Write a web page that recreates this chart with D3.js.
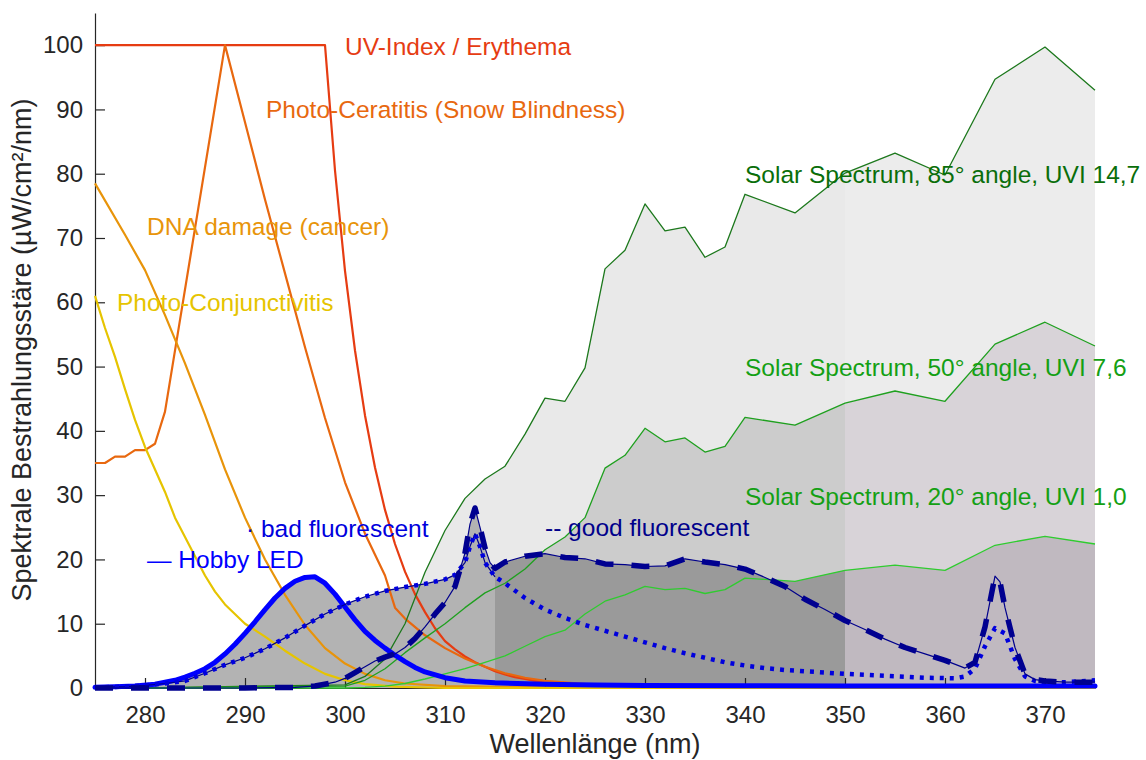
<!DOCTYPE html>
<html><head><meta charset="utf-8">
<script src="https://cdn.jsdelivr.net/npm/d3@7"></script>
<style>
body{margin:0;background:#fff}
svg{display:block}
text{font-family:"Liberation Sans",Arial,Helvetica,sans-serif}
</style>
</head><body>
<svg id="c" width="1146" height="760"></svg>
<script>
// ---------- data ----------
const xTicks = [280,290,300,310,320,330,340,350,360,370];
const yTicks = [0,10,20,30,40,50,60,70,80,90,100];

const wlErythema = [275,298,299,300,301,302,303,304,305,306,307,308,309,310,311,312,313,314,315,316,317,318,319,320,322,324,326,328,330,340,350,360,375];
const erythema   = [100,100,80.5,64.9,52.5,42.4,34.3,27.7,22.4,18.1,14.6,11.8,9.3,7.3,6.0,4.9,4.0,3.3,2.6,2.1,1.7,1.4,1.1,0.9,0.6,0.4,0.25,0.16,0.14,0.05,0.02,0.01,0];

const wlCeratitis = [275,276,277,278,279,280,281,282,288,290,292,294,296,298,300,302,304,305,306,308,310,312,314,316,318,320,325,330,340,375];
const ceratitis   = [35,35,36,36,37,37,38,43,100,88,76,64.5,53,42,32,24,17.5,12.5,10.8,8.2,6.2,4.6,3.3,2.3,1.6,1.1,0.5,0.2,0.05,0];

const wlDNA = [275,278,280,282,284,286,288,290,292,294,296,298,300,302,304,306,310,320,375];
const dna   = [78.5,70.5,65,58,50.5,42.5,34,26.5,20,14.5,9.8,6.2,3.8,2.2,1.2,0.7,0.3,0.1,0];

const wlConj = [275,276,277,278,279,280,281,282,283,284,285,286,287,288,290,292,294,296,298,300,302,305,310,375];
const conj   = [61,56,51.5,46.5,41.7,37.5,34,30.5,26.5,23.5,20.5,17.5,15,13,10,8,5.8,3.8,2.2,1.2,0.6,0.2,0,0];

const wlSolar  = [280,300,302,304,306,308,310,312,314,316,318,320,322,324,326,328,330,332,334,336,338,340,345,350,355,360,365,370,375];
const solar85  = [0,0.5,1.8,4.5,10,18,24.5,29.5,32.5,34.5,39.5,45.1,44.6,49.8,65.2,68.1,75.3,71.1,71.7,67.0,68.6,76.8,73.9,80.1,83.2,79.8,94.7,99.7,93.0];
const solar50  = [0,0.3,1.2,3,5.5,7.8,10,12.5,14.8,16.3,18.5,21.5,23.5,26.5,34.2,36.2,40.4,38.3,38.9,36.7,37.6,42.1,40.9,44.3,46.2,44.6,53.5,56.9,53.2];
const solar20  = [0,0,0.1,0.3,0.7,1.4,2.2,3.0,4.0,5.0,6.5,8,9,11.5,13.5,14.5,15.8,15.3,15.5,14.7,15.3,17.1,16.6,18.3,19.1,18.3,22.2,23.6,22.4];

const wlLED = [275,277,279,281,282,283,284,285,286,287,288,289,290,291,292,293,294,295,296,297,298,299,300,301,302,303,304,305,306,307,308,310,312,315,320,325,330,340,350,360,375];
const led   = [0.1,0.2,0.3,0.6,0.9,1.2,1.7,2.3,3.0,4.0,5.3,6.8,8.5,10.3,12.2,14.0,15.5,16.6,17.2,17.3,16.3,14.6,12.6,10.6,8.8,7.4,6.2,5.1,4.1,3.2,2.5,1.6,1.1,0.8,0.6,0.45,0.4,0.35,0.3,0.3,0.3];

const wlBad = [275,278,280,282,284,286,288,290,292,294,296,298,300,302,304,306,308,310,311,312,312.5,313,313.5,314,315,316,318,320,322,324,326,328,330,332,334,336,338,340,342,344,346,348,350,354,358,361,362,363,364,365,366,367,368,369,370,372,375];
const bad   = [0.1,0.2,0.4,0.7,1.1,2.3,3.6,4.7,6.1,7.8,9.7,11.5,13,14.2,15.1,15.7,16.2,16.9,17.6,19.5,22,24,22,19.5,17.3,16.3,14,12.2,10.9,9.8,8.9,8,7.1,6.2,5.4,4.7,4.0,3.5,3.1,2.8,2.6,2.4,2.2,1.9,1.6,1.5,1.8,3,6.5,9.3,8.5,4.5,1.8,1.1,0.9,0.9,1.2];

const wlGood = [275,290,295,297,299,300,301,302,303,304,305,306,307,308,309,310,311,312,312.5,313,313.5,314,314.5,315,316,318,320,322,324,326,328,330,332,334,336,338,340,342,344,346,348,350,352,354,356,358,360,362,363,364,365,365.5,366,367,368,369,370,372,375];
const good   = [0,0,0.1,0.3,0.9,1.5,2.4,3.3,4.2,4.8,5.3,6.3,7.7,9.5,11.5,13.3,15.8,21,25.5,28,25,21.8,19.5,18.6,19.6,20.5,20.9,20.3,20.1,19.3,19.2,18.9,19,20.1,19.6,19.2,18.5,17.2,15.8,13.8,12.2,10.5,9.1,7.6,6.3,5.3,4.3,3.1,4,9.5,17.4,16.5,12.5,6.3,2.2,1.3,1.1,0.9,0.9];

const bandEdges = [275,315,350,375];

// ---------- setup ----------
const W = 1146, H = 760;
const x = d3.scaleLinear().domain([275,375]).range([95,1095]);
const y = d3.scaleLinear().domain([0,105]).range([688,13]);
const svg = d3.select('#c');
const defs = svg.append('defs');
const zip = (a,b) => a.map((v,i)=>[v,b[i]]);

const area = d3.area().x(d=>x(d[0])).y0(y(0)).y1(d=>y(d[1]));
const line = d3.line().x(d=>x(d[0])).y(d=>y(d[1]));

const fills = {
  s85: ['#e9e9e9','#e9e9e9','#ececec'],
  s50: [null,'#cccccc','#d8d3d8'],
  low: ['#b3b3b3','#9a9a9a','#c0b9c0']
};

const gFill = svg.append('g');
for (let i=0;i<3;i++){
  defs.append('clipPath').attr('id','band'+i).append('rect')
    .attr('x', x(bandEdges[i])).attr('y',0)
    .attr('width', x(bandEdges[i+1]) - x(bandEdges[i])).attr('height', H);
  const g = gFill.append('g').attr('clip-path','url(#band'+i+')');
  g.append('path').attr('d', area(zip(wlSolar,solar85))).attr('fill', fills.s85[i]);
  if (fills.s50[i]) g.append('path').attr('d', area(zip(wlSolar,solar50))).attr('fill', fills.s50[i]);
  if (i>0) g.append('path').attr('d', area(zip(wlSolar,solar20))).attr('fill', fills.low[i]);
  [[wlLED,led],[wlBad,bad],[wlGood,good]].forEach(([w,v])=>{
    g.append('path').attr('d', area(zip(w,v))).attr('fill', fills.low[i]);
  });
}

// ---------- axes ----------
const axCol = '#262626';
const yAxis = svg.append('g').attr('transform','translate(95,0)')
  .call(d3.axisLeft(y).tickValues(yTicks).tickSizeInner(-10).tickSizeOuter(0).tickPadding(12));
const xAxis = svg.append('g').attr('transform','translate(0,688)')
  .call(d3.axisBottom(x).tickValues(xTicks).tickSizeInner(-10).tickSizeOuter(0).tickPadding(18));
[yAxis,xAxis].forEach(a=>{
  a.selectAll('path,line').attr('stroke',axCol).attr('stroke-width',1.2);
  a.selectAll('text').attr('fill',axCol).style('font-size','24px').style('font-family','"Liberation Sans",Arial,sans-serif');
});

// ---------- lines ----------
const gL = svg.append('g').attr('fill','none').attr('stroke-linejoin','round');
function drawLine(w,v,col,wid,dash,cap){
  const p = gL.append('path').attr('d', line(zip(w,v))).attr('stroke',col).attr('stroke-width',wid);
  if (dash) p.attr('stroke-dasharray',dash);
  p.attr('stroke-linecap', cap||'butt');
  return p;
}
drawLine(wlErythema,erythema,'#e63c12',2.2);
drawLine(wlCeratitis,ceratitis,'#e8680f',2.2);
drawLine(wlDNA,dna,'#e8940a',2.2);
drawLine(wlConj,conj,'#e6c400',2.2);
drawLine(wlSolar,solar85,'#1c781c',1.3);
drawLine(wlSolar,solar50,'#1fa01f',1.3);
drawLine(wlSolar,solar20,'#2fcc2f',1.3);
drawLine(wlLED,led,'#0000ff',5,null,'round');
const badIdx = wlBad.map((w,i)=>i).filter(i=>wlBad[i]<=315);
drawLine(badIdx.map(i=>wlBad[i]), badIdx.map(i=>bad[i]), '#00008b', 1.2);
drawLine(wlBad,bad,'#0000dd',4.5,'4 6');
drawLine(wlGood,good,'#00008b',1.2);
drawLine(wlGood,good,'#000090',5.5,'18 18');

// ---------- labels ----------
const labels = [
  {t:'UV-Index / Erythema', x:345, y:55, c:'#e63c12'},
  {t:'Photo-Ceratitis (Snow Blindness)', x:266, y:118, c:'#e8680f'},
  {t:'DNA damage (cancer)', x:147, y:235, c:'#e8940a'},
  {t:'Photo-Conjunctivitis', x:117, y:311, c:'#e6c400'},
  {t:'Solar Spectrum, 85° angle, UVI 14,7', x:745, y:183, c:'#0a6e0a'},
  {t:'Solar Spectrum, 50° angle, UVI 7,6', x:745, y:376, c:'#14a014'},
  {t:'Solar Spectrum, 20° angle, UVI 1,0', x:745, y:505, c:'#14a014'},
  {t:'· bad fluorescent', x:246, y:537, c:'#0000dd'},
  {t:'— Hobby LED', x:147, y:568, c:'#0000ff'},
  {t:'-- good fluorescent', x:545, y:536, c:'#00008b'}
];
svg.append('g').selectAll('text').data(labels).join('text')
  .attr('x',d=>d.x).attr('y',d=>d.y).attr('fill',d=>d.c)
  .style('font-size','24.5px').text(d=>d.t);

// axis titles
svg.append('text').attr('x',595).attr('y',753).attr('text-anchor','middle')
  .attr('fill',axCol).style('font-size','27px').text('Wellenlänge (nm)');
svg.append('text').attr('transform','translate(31,350) rotate(-90)').attr('text-anchor','middle')
  .attr('fill',axCol).style('font-size','27px').text('Spektrale Bestrahlungsstäre (µW/cm²/nm)');
</script>
</body></html>
